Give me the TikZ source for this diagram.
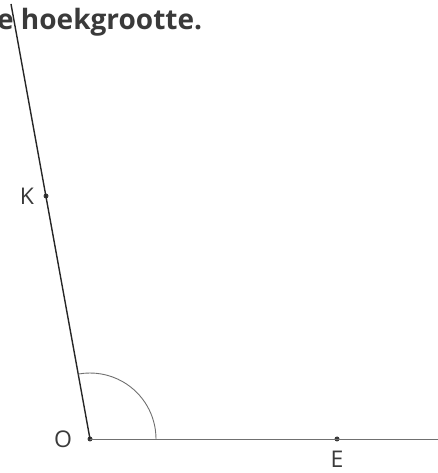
\documentclass[tikz,border=0pt]{standalone}
\usepackage{fontspec}
\setmainfont{Open Sans}
\usetikzlibrary{positioning}
\definecolor{inkgray}{HTML}{3A3A3A}
\definecolor{linegray}{HTML}{707070}
\tikzset{
  dot/.style={circle,fill=inkgray,inner sep=0pt,minimum size=5pt},
  lbl/.style={text=inkgray,inner sep=1pt,font=\fontsize{23}{23}\selectfont},
}
\begin{document}
\begin{tikzpicture}[x=1pt,y=1pt]
  \useasboundingbox (0,0) rectangle (438,473);
  % heading, cut off at the left edge
  \node[anchor=base west,inner sep=0pt,text=inkgray,
        font=\bfseries\fontsize{28}{28}\selectfont] (title) at (-3,443) {e hoekgrootte.};
  % points
  \node[dot] (O) at (90,34) {};
  \node[dot] (K) at (46,277) {};
  \node[dot] (E) at (337,34) {};
  \coordinate (top) at (11,469);
  \coordinate (far) at (438,34);
  % legs
  \draw[linegray,line width=0.9pt] (O.center) -- (far);
  \draw[black!85,line width=1.4pt] (O.center) -- (top);
  \draw[linegray,line width=0.9pt] ([xshift=66pt]O.center) arc[start angle=0,end angle=100.3,radius=66pt];
  % labels
  \node[lbl,left=8pt of K] (Klbl) {K};
  \node[lbl,left=14pt of O] (Olbl) {O};
  \node[lbl,below=8pt of E] (Elbl) {E};
\end{tikzpicture}
\end{document}
